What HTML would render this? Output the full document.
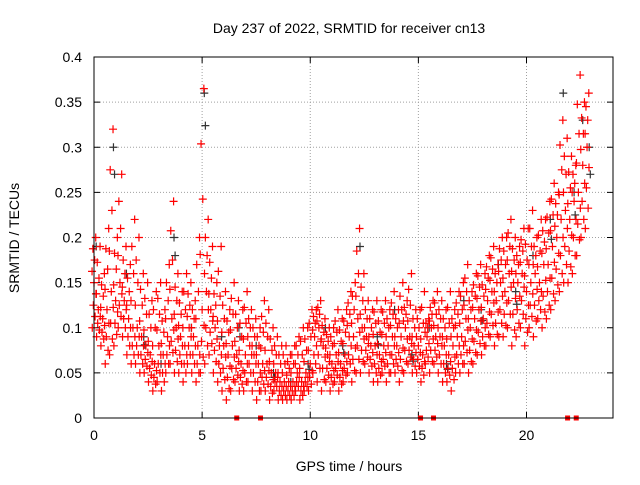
<!DOCTYPE html>
<html><head><meta charset="utf-8"><style>
body{margin:0;background:#fff;font-family:"Liberation Sans",sans-serif}
svg text{font-family:"Liberation Sans",sans-serif;font-size:14px;fill:#000}
</style></head><body>
<svg id="c" width="640" height="480" xmlns="http://www.w3.org/2000/svg"></svg>
<script>
const xTicks=[0,5,10,15,20];
const yTicks=[0,0.05,0.1,0.15,0.2,0.25,0.3,0.35,0.4];
const yTickLabels=["0","0.05","0.1","0.15","0.2","0.25","0.3","0.35","0.4"];
const redTimes=[0,0.2,0.4,0.6,0.8,1,1.2,1.4,1.6,1.8,2,2.2,2.4,2.6,2.8,3,3.2,3.4,3.6,3.8,4,4.2,4.4,4.6,4.8,5,5.2,5.4,5.6,5.8,6,6.2,6.4,6.6,6.8,7,7.2,7.4,7.6,7.8,8,8.2,8.4,8.6,8.8,9,9.2,9.4,9.6,9.8,10,10.2,10.4,10.6,10.8,11,11.2,11.4,11.6,11.8,12,12.2,12.4,12.6,12.8,13,13.2,13.4,13.6,13.8,14,14.2,14.4,14.6,14.8,15,15.2,15.4,15.6,15.8,16,16.2,16.4,16.6,16.8,17,17.2,17.4,17.6,17.8,18,18.2,18.4,18.6,18.8,19,19.2,19.4,19.6,19.8,20,20.2,20.4,20.6,20.8,21,21.2,21.4,21.6,21.8,22,22.2,22.4,22.6,22.8];
const redLow=[.1,.09,.08,.06,.07,.08,.1,.09,.07,.06,.06,.05,.05,.04,.03,.04,.03,.05,.06,.05,.05,.04,.06,.05,.04,.05,.06,.07,.05,.04,.03,.02,.03,.04,.03,.03,.04,.03,.02,.03,.03,.02,.03,.02,.02,.02,.02,.03,.02,.03,.03,.05,.04,.03,.04,.03,.04,.03,.04,.05,.04,.05,.05,.06,.05,.04,.04,.05,.04,.05,.05,.04,.05,.06,.05,.05,.04,.06,.05,.06,.05,.04,.04,.03,.05,.05,.06,.05,.06,.07,.07,.08,.09,.08,.09,.09,.1,.08,.09,.1,.08,.1,.09,.11,.1,.11,.12,.13,.14,.15,.15,.16,.18,.2,.21];
const redMid=[.15,.12,.11,.12,.14,.13,.15,.13,.11,.1,.1,.09,.08,.07,.06,.08,.07,.09,.11,.1,.09,.08,.1,.09,.08,.12,.14,.12,.1,.08,.08,.07,.08,.07,.06,.07,.08,.07,.06,.06,.06,.05,.05,.04,.04,.04,.04,.05,.04,.05,.06,.09,.1,.08,.07,.06,.07,.06,.07,.09,.09,.11,.1,.09,.08,.08,.07,.08,.08,.09,.08,.09,.1,.09,.08,.08,.07,.09,.1,.09,.09,.08,.07,.08,.09,.09,.11,.1,.11,.12,.11,.13,.14,.13,.15,.14,.16,.15,.15,.16,.14,.15,.16,.15,.17,.17,.19,.2,.22,.23,.22,.24,.25,.28,.3];
const redHigh=[.2,.19,.16,.21,.32,.2,.27,.19,.17,.22,.2,.16,.15,.13,.14,.15,.12,.17,.24,.16,.14,.16,.15,.13,.2,.365,.22,.19,.15,.19,.14,.12,.15,.13,.12,.14,.12,.11,.1,.13,.12,.1,.09,.08,.08,.07,.08,.09,.1,.1,.12,.12,.13,.11,.1,.1,.12,.11,.12,.14,.15,.21,.16,.13,.12,.13,.12,.13,.12,.14,.12,.15,.13,.16,.12,.12,.14,.11,.13,.14,.13,.12,.14,.12,.14,.15,.17,.14,.16,.17,.16,.18,.19,.17,.2,.2,.22,.2,.19,.21,.21,.23,.2,.22,.22,.24,.26,.25,.33,.31,.29,.28,.38,.35,.36];
const blackTimes=[0.1,0.9,1.5,2.3,3.1,3.7,4.5,5.1,5.9,6.7,7.5,8.3,9.1,9.9,10.7,11.5,12.3,13.1,13.9,14.7,15.5,16.3,17.1,17.9,18.7,19.5,20.3,21.1,21.7,22.2,22.6,22.9];
const blackValues=[.19,.3,.16,.09,.06,.2,.1,.36,.09,.1,.08,.05,.04,.06,.1,.08,.19,.09,.12,.07,.1,.06,.13,.12,.17,.14,.18,.22,.36,.25,.33,.3];
const zeroTimes=[6.6,7.7,15.1,15.7,21.9,22.3];

const svg=document.getElementById('c');const NS='http://www.w3.org/2000/svg';
const X0=94,X1=613,Y0=418,Y1=57;
const xs=h=>X0+(h/24)*(X1-X0);
const ys=v=>Y0-(v/0.4)*(Y0-Y1);
function mk(t,a,p){const e=document.createElementNS(NS,t);for(const k in a)e.setAttribute(k,a[k]);(p||svg).appendChild(e);return e;}
const grid=mk('g',{});


xTicks.forEach(t=>{const x=xs(t);
 if(t>0)mk('line',{x1:x,x2:x,y1:Y1,y2:Y0,stroke:'#a0a0a0','stroke-dasharray':'1,2','stroke-width':1},grid);
 mk('line',{x1:x,x2:x,y1:Y0,y2:Y0-6,stroke:'#000'});mk('line',{x1:x,x2:x,y1:Y1,y2:Y1+6,stroke:'#000'});
 const tx=mk('text',{x:x,y:Y0+22,'text-anchor':'middle'});tx.textContent=t;
 
 });
yTicks.forEach((t,i)=>{const y=ys(t);
 if(i>0&&i<yTicks.length-1)mk('line',{x1:X0,x2:X1,y1:y,y2:y,stroke:'#a0a0a0','stroke-dasharray':'1,2','stroke-width':1},grid);
 mk('line',{x1:X0,x2:X0+6,y1:y,y2:y,stroke:'#000'});mk('line',{x1:X1,x2:X1-6,y1:y,y2:y,stroke:'#000'});
 const tx=mk('text',{x:X0-12,y:y+5,'text-anchor':'end'});tx.textContent=yTickLabels[i];
 
 });
const plus=(g,x,y,c)=>mk('path',{d:`M${x-4},${y}h8M${x},${y-4}v8`,stroke:c,'stroke-width':1.2,fill:'none'},g);
const blk=mk('g',{});


blackTimes.forEach((t,i)=>plus(blk,xs(t),ys(blackValues[i]),'#333'));
const red=mk('g',{});


const fr9=[0,0.25,0.5,0.75,1,1.25,1.5,1.75,2];
const dx9=[-0.08,0.05,-0.03,0.09,0,-0.09,0.03,-0.05,0.08];
redTimes.forEach((t,i)=>{
 fr9.forEach((f,k)=>{const v=f<=1?redLow[i]+(redMid[i]-redLow[i])*f:redMid[i]+(redHigh[i]-redMid[i])*(f-1);
  plus(red,xs(t+dx9[k]),ys(v),'#ff0000');});});
blackTimes.forEach((t,i)=>{if(i%2)plus(blk,xs(t+0.05),ys(blackValues[i]*0.9),'#333');});
const zg=mk('g',{});


zeroTimes.forEach(t=>mk('rect',{x:xs(t)-2.5,y:Y0-2.5,width:5,height:5,fill:'#ff0000'},zg));
const fr=mk('rect',{x:X0,y:Y1,width:X1-X0,height:Y0-Y1,fill:'none',stroke:'#000'});


const ti=mk('text',{x:349,y:33,'text-anchor':'middle'});ti.textContent='Day 237 of 2022, SRMTID for receiver cn13';


const xl=mk('text',{x:349,y:471,'text-anchor':'middle'});xl.textContent='GPS time / hours';


const yl=mk('text',{x:0,y:0,'text-anchor':'middle',transform:'translate(19,238) rotate(-90)'});yl.textContent='SRMTID / TECUs';


</script>
</body></html>
